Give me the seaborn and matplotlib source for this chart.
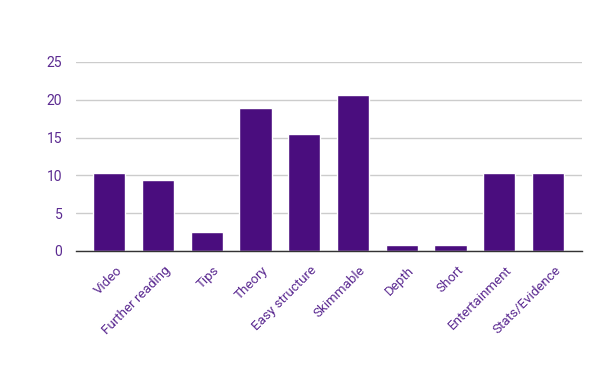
import seaborn as sns
import matplotlib.pyplot as plt
from matplotlib.transforms import ScaledTranslation

categories = ['Video', 'Further reading', 'Tips', 'Theory', 'Easy structure',
              'Skimmable', 'Depth', 'Short', 'Entertainment', 'Stats/Evidence']
values = [10.3, 9.4, 2.5, 18.9, 15.5, 20.6, 0.8, 0.8, 10.3, 10.3]
y_ticks = [0, 5, 10, 15, 20, 25]

sns.set_style('white')
plt.rcParams['font.family'] = ['Roboto', 'DejaVu Sans']

fig = plt.figure(figsize=(6, 3.71), dpi=100)
ax = fig.add_axes([0.127, 0.3235, 0.843, 0.5095])

sns.barplot(x=categories, y=values, color='#4a0d7e', saturation=1,
            width=0.66, ax=ax)

ax.set_ylim(0, 25)
ax.set_xlim(-0.68, len(categories) - 0.3)
ax.set_yticks(y_ticks)
ax.yaxis.grid(True, color='#cccccc', linewidth=1)
ax.set_axisbelow(True)
for side in ['top', 'right', 'left']:
    ax.spines[side].set_visible(False)
ax.spines['bottom'].set_color('#333333')
ax.spines['bottom'].set_linewidth(1)
ax.tick_params(axis='both', length=0, labelsize=10, labelcolor='#5b2a91')
ax.tick_params(axis='y', pad=10)
ax.tick_params(axis='x', pad=9)
shift = ScaledTranslation(6 / 100, 0, fig.dpi_scale_trans)
for lbl in ax.get_xticklabels():
    lbl.set_rotation(45)
    lbl.set_ha('right')
    lbl.set_rotation_mode('anchor')
    lbl.set_fontsize(9.6)
    lbl.set_transform(lbl.get_transform() + shift)
ax.set_xlabel('')
ax.set_ylabel('')

plt.savefig('out.png', dpi=100)
